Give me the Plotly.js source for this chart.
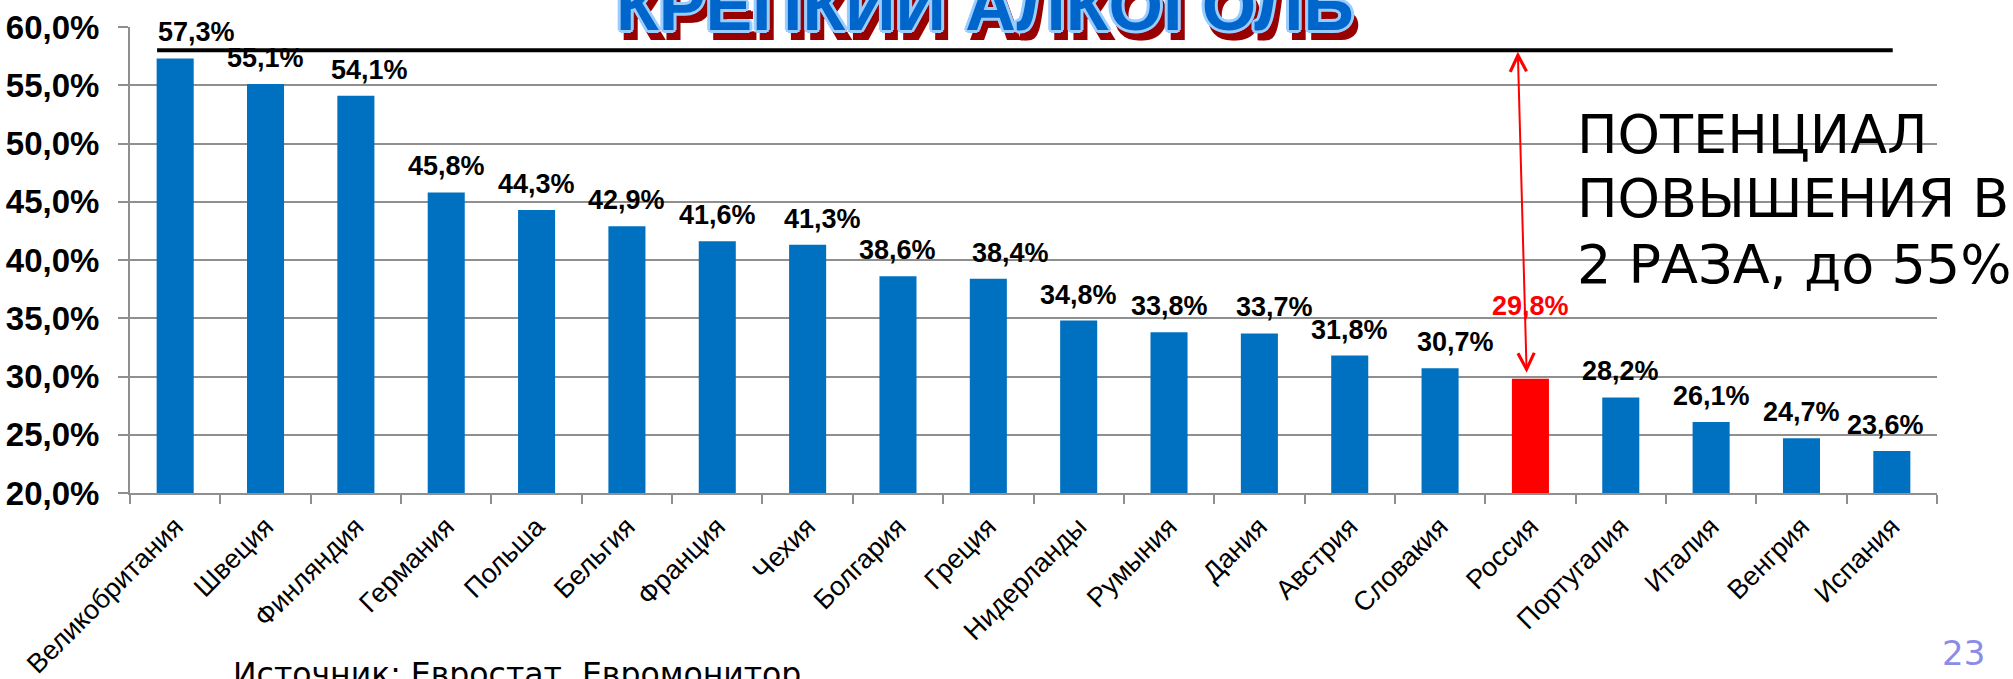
<!DOCTYPE html>
<html><head><meta charset="utf-8">
<script src="https://cdn.plot.ly/plotly-3.0.1.min.js"></script>
<style>html,body{margin:0;padding:0;background:#fff}#chart{width:2013px;height:679px}</style>
</head><body><div id="chart"></div>
<script>
const countries = ['Великобритания','Швеция','Финляндия','Германия','Польша','Бельгия','Франция','Чехия','Болгария','Греция','Нидерланды','Румыния','Дания','Австрия','Словакия','Россия','Португалия','Италия','Венгрия','Испания'];
const shares = [57.3,55.1,54.1,45.8,44.3,42.9,41.6,41.3,38.6,38.4,34.8,33.8,33.7,31.8,30.7,29.8,28.2,26.1,24.7,23.6];
const highlight = 'Россия';
const potentialLevel = 58;
const yTicks = [20,25,30,35,40,45,50,55,60];
const titleText = 'КРЕПКИЙ АЛКОГОЛЬ';
const noteLines = ['ПОТЕНЦИАЛ','ПОВЫШЕНИЯ В','2 РАЗА, до 55%'];
const sourceText = 'Источник: Евростат, Евромонитор';
const pageNumber = '23';

// label nudges (style, in pixels)
const labelNudgeX = {'Великобритания':21,'Финляндия':14,'Чехия':15,'Греция':22,'Дания':15,'Словакия':15,'Испания':-6};

const BLUE = '#0070C0', RED = '#FF0000', GRID = '#8f8f8f';
const fmt = v => v.toFixed(1).replace('.', ',') + '%';
const hiIdx = countries.indexOf(highlight);

const trace = {
  type: 'bar', x: countries, y: shares,
  marker: {color: countries.map(c => c === highlight ? RED : BLUE)},
  width: 0.41, hoverinfo: 'skip'
};

const annotations = countries.map((c, i) => ({
  x: c, y: shares[i], xref: 'x', yref: 'y', showarrow: false,
  text: fmt(shares[i]), xanchor: 'center', yanchor: 'middle',
  yshift: c === highlight ? 73 : 26, xshift: labelNudgeX[c] || 0,
  font: {family: 'Liberation Sans, Arial, sans-serif', size: 27, weight: 700, color: c === highlight ? RED : '#000'}
}));

// double-headed red arrow from potential level to Russia
annotations.push({
  x: hiIdx - 0.04, y: shares[hiIdx], xref: 'x', yref: 'y',
  ax: hiIdx - 0.14, ay: potentialLevel, axref: 'x', ayref: 'y',
  text: '', showarrow: true, arrowside: 'end+start',
  arrowhead: 5, startarrowhead: 5, arrowsize: 1.6, startarrowsize: 1.6,
  arrowwidth: 2, arrowcolor: RED, standoff: 6, startstandoff: 0
});

// title (WordArt-like)
annotations.push({
  x: 0.4732, y: 1.046, xref: 'paper', yref: 'paper', showarrow: false,
  text: titleText, xanchor: 'center', yanchor: 'middle',
  font: {family: 'Liberation Sans, Arial, sans-serif', size: 70, weight: 900, color: '#0066CC',
    shadow: '3px 0 0 #99CCFF, -3px 0 0 #99CCFF, 0 3px 0 #99CCFF, 0 -3px 0 #99CCFF, 2px 2px 0 #99CCFF, -2px 2px 0 #99CCFF, 2px -2px 0 #99CCFF, -2px -2px 0 #99CCFF, 5px 9px 0 #990000, 7px 10px 0 #990000, 3px 10px 0 #990000'}
});

// potential note
const noteCenters = [134, 198, 264];
noteLines.forEach((t, i) => annotations.push({
  x: 0.7997, y: (493 - noteCenters[i]) / 466, xref: 'paper', yref: 'paper', showarrow: false,
  text: t, xanchor: 'left', yanchor: 'middle',
  font: {family: 'DejaVu Sans, Verdana, sans-serif', size: 54, color: '#000'}
}));

annotations.push({
  x: 0.056, y: -0.389, xref: 'paper', yref: 'paper', showarrow: false,
  text: sourceText, xanchor: 'left', yanchor: 'middle',
  font: {family: 'DejaVu Sans, Verdana, sans-serif', size: 31.5, color: '#000'}
});
annotations.push({
  x: 1.0147, y: -0.343, xref: 'paper', yref: 'paper', showarrow: false,
  text: pageNumber, xanchor: 'center', yanchor: 'middle',
  font: {family: 'DejaVu Sans, Verdana, sans-serif', size: 34, color: '#8B8BE8'}
});

const layout = {
  width: 2013, height: 679,
  margin: {l: 130, r: 76, t: 27, b: 186, pad: 0},
  paper_bgcolor: '#fff', plot_bgcolor: '#fff',
  showlegend: false,
  xaxis: {
    type: 'category', showline: true, linecolor: GRID, linewidth: 2,
    ticks: 'outside', tickson: 'boundaries', ticklen: 9, tickwidth: 2, tickcolor: GRID,
    tickangle: -45, ticklabelstandoff: 5,
    tickfont: {family: 'Liberation Sans, Arial, sans-serif', size: 27, color: '#000'},
    showgrid: false, zeroline: false
  },
  yaxis: {
    range: [20, 60], tickmode: 'array', tickvals: yTicks, ticktext: yTicks.map(fmt),
    showline: true, linecolor: GRID, linewidth: 2,
    ticks: 'outside', ticklen: 10, tickwidth: 2, tickcolor: GRID,
    ticklabelstandoff: 12,
    tickfont: {family: 'Liberation Sans, Arial, sans-serif', size: 33, weight: 700, color: '#000'},
    showgrid: true, gridcolor: GRID, gridwidth: 2, zeroline: false
  },
  shapes: [{
    type: 'line', xref: 'x', yref: 'y', x0: -0.2, x1: 19.01,
    y0: potentialLevel, y1: potentialLevel, line: {color: '#000', width: 4}
  }],
  annotations: annotations
};

Plotly.newPlot('chart', [trace], layout, {staticPlot: true, displayModeBar: false});
</script></body></html>
